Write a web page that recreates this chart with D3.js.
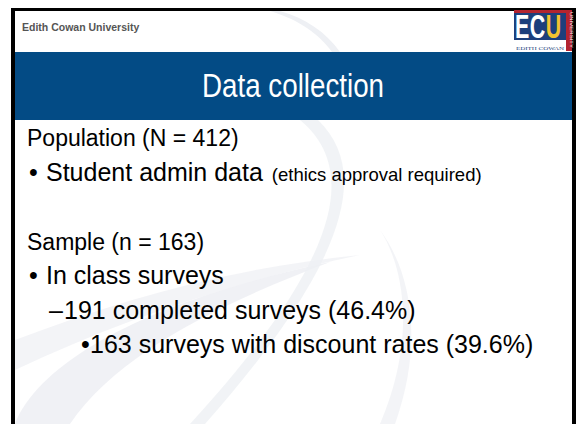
<!DOCTYPE html>
<html>
<head>
<meta charset="utf-8">
<script src="https://cdn.jsdelivr.net/npm/d3@7/dist/d3.min.js"></script>
<style>
  html, body { margin: 0; padding: 0; background: #fff; }
  svg { display: block; font-family: "Liberation Sans", Arial, sans-serif; }
</style>
</head>
<body>
<div id="slide"></div>
<script>
// slide content
const headerText = "Edith Cowan University";
const titleText = "Data collection";
const lineText = [
  "Population (N = 412)",
  "Student admin data",
  "",
  "Sample (n = 163)",
  "In class surveys",
  "191 completed surveys (46.4%)",
  "163 surveys with discount rates (39.6%)"
];
const lineNote = ["", "(ethics approval required)", "", "", "", "", ""];
const lineLevel = [0, 1, 0, 0, 1, 2, 3];
const levelMarks = ["", "•", "–", "•"];
const logoLetters = ["E", "C", "U"];

const width = 576, height = 424;

const svg = d3.select("#slide").append("svg")
  .attr("width", width)
  .attr("height", height);

// **faint background swooshes**
const swoosh = svg.append("g");
swoosh.append("path")
  .attr("d", "M15,424 C40,360 150,300 330,262 C230,300 120,350 70,424 Z")
  .attr("fill", "#ecedf2").attr("opacity", 0.8);
swoosh.append("path")
  .attr("d", "M15,340 C120,300 230,268 360,255 C240,280 120,320 15,370 Z")
  .attr("fill", "#f0f1f5").attr("opacity", 0.8);
swoosh.append("path")
  .attr("d", "M300,120 C360,170 340,260 190,424 L205,424 C350,260 370,170 318,120 Z")
  .attr("fill", "#eef0f4").attr("opacity", 0.8);
swoosh.append("path")
  .attr("d", "M380,424 C420,330 400,260 380,230 C410,270 425,340 395,424 Z")
  .attr("fill", "#f2f3f6").attr("opacity", 0.9);
swoosh.append("path")
  .attr("d", "M270,11 C300,20 320,35 332,52 L340,52 C326,32 305,18 280,11 Z")
  .attr("fill", "#eef0f4");

// **frame**
svg.append("rect").attr("x", 11).attr("y", 8).attr("width", 565).attr("height", 3).attr("fill", "#000");
svg.append("rect").attr("x", 11).attr("y", 8).attr("width", 4).attr("height", height - 8).attr("fill", "#000");
svg.append("rect").attr("x", 572).attr("y", 8).attr("width", 4).attr("height", height - 8).attr("fill", "#000");

// header label
svg.append("text")
  .attr("x", 22).attr("y", 31)
  .attr("font-size", 10.5).attr("font-weight", "bold")
  .attr("fill", "#555")
  .text(headerText);

// **title band**
svg.append("rect")
  .attr("x", 15).attr("y", 52).attr("width", 557).attr("height", 68)
  .attr("fill", "#034b85");

svg.append("text")
  .attr("x", 293).attr("y", 97)
  .attr("text-anchor", "middle")
  .attr("font-size", 33)
  .attr("textLength", 182).attr("lengthAdjust", "spacingAndGlyphs")
  .attr("fill", "#fff")
  .text(titleText);

// **logo**
const logo = svg.append("g");
logo.append("rect").attr("x", 514).attr("y", 10).attr("width", 53).attr("height", 30).attr("fill", "#1c3f7c");
logo.append("rect").attr("x", 514).attr("y", 10).attr("width", 53).attr("height", 3).attr("fill", "#b32430");
logo.append("rect").attr("x", 514).attr("y", 40).attr("width", 53).attr("height", 11).attr("fill", "#fff");
logo.append("rect").attr("x", 566).attr("y", 10).attr("width", 6).attr("height", 41).attr("fill", "#b32430");

logo.append("g")
  .attr("transform", "translate(515,38) scale(0.64,1)")
  .selectAll("text")
  .data(logoLetters)
  .enter().append("text")
  .attr("x", (d, i) => [0, 23, 48][i])
  .attr("font-size", 33.5).attr("font-weight", "bold")
  .attr("fill", d => d === "U" ? "#f2c230" : "#fff")
  .text(d => d);

logo.append("text")
  .attr("x", 540).attr("y", 50)
  .attr("text-anchor", "middle")
  .attr("font-family", "Liberation Serif, serif")
  .attr("font-size", 5)
  .attr("textLength", 48).attr("lengthAdjust", "spacingAndGlyphs")
  .attr("fill", "#1c3f7c")
  .text("EDITH COWAN");
logo.append("text")
  .attr("transform", "translate(570.4,30) rotate(90)")
  .attr("text-anchor", "middle")
  .attr("font-size", 3.5)
  .attr("textLength", 36).attr("lengthAdjust", "spacingAndGlyphs")
  .attr("fill", "#fff")
  .text("UNIVERSITY");

// **body lines**
const y = d3.scaleLinear().domain([0, 1]).range([146, 180.5]);
const markX = [0, 29, 49, 81];
const textX = [27, 46, 64, 90];
const levelSize = [23, 25, 25, 25];

const rows = lineText.map((t, i) => ({ text: t, note: lineNote[i], level: lineLevel[i], i }))
  .filter(d => d.text !== "");

const body = svg.append("g").attr("fill", "#000");

body.selectAll("text.mark")
  .data(rows.filter(d => d.level > 0))
  .enter().append("text")
  .attr("class", "mark")
  .attr("x", d => markX[d.level])
  .attr("y", d => y(d.i))
  .attr("font-size", d => levelSize[d.level])
  .text(d => levelMarks[d.level]);

const lines = body.selectAll("text.line")
  .data(rows)
  .enter().append("text")
  .attr("class", "line")
  .attr("x", d => textX[d.level])
  .attr("y", d => y(d.i))
  .attr("font-size", d => levelSize[d.level]);

lines.append("tspan").text(d => d.text);
lines.filter(d => d.note)
  .append("tspan")
  .attr("dx", 9)
  .attr("font-size", 18.5)
  .text(d => d.note);
</script>
</body>
</html>
